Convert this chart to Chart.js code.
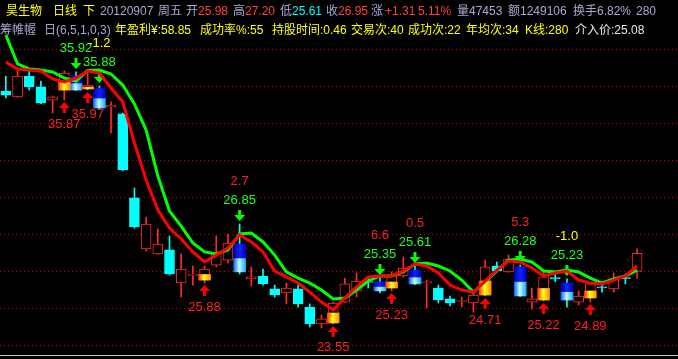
<!DOCTYPE html>
<html>
<head>
<meta charset="utf-8">
<script src="https://cdn.jsdelivr.net/npm/chart.js@4.4.0/dist/chart.umd.min.js"></script>
<style>
  html, body { margin: 0; padding: 0; background: #000; }
  #wrap { width: 678px; height: 359px; position: relative; background: #000; }
</style>
</head>
<body>
<div id="wrap"><canvas id="kChart"></canvas></div>
<script>
// trading days shown (last one is 20120907)
const dates = [
  '20120625','20120626','20120627','20120628','20120629',
  '20120702','20120703','20120704','20120705','20120706',
  '20120709','20120710','20120711','20120712','20120713',
  '20120716','20120717','20120718','20120719','20120720',
  '20120723','20120724','20120725','20120726','20120727',
  '20120730','20120731','20120801','20120802','20120803',
  '20120806','20120807','20120808','20120809','20120810',
  '20120813','20120814','20120815','20120816','20120817',
  '20120820','20120821','20120822','20120823','20120824',
  '20120827','20120828','20120829','20120830','20120831',
  '20120903','20120904','20120905','20120906','20120907'
];

const openP = [35.73,35.41,36.54,35.95,35.24,35.78,36.54,35.84,35.89,34.86,
  34.49,29.95,27.19,26.92,27.14,25.35,25.76,25.51,26.32,26.59,
  27.46,25.57,25.73,25.03,24.81,25.03,24.05,23.14,23.19,24.32,
  24.92,25.41,25.41,25.08,25.73,26.05,25.35,25.08,24.49,24.35,
  24.27,24.70,26.27,25.95,26.22,24.32,24.43,25.62,25.35,24.32,
  24.54,25.14,25.03,25.62,25.98];
const closeP = [35.51,36.54,35.95,35.08,35.41,36.70,35.78,36.05,34.81,34.97,
  31.46,28.38,28.54,27.46,25.84,26.11,25.78,26.11,26.97,27.51,
  25.95,25.68,25.30,24.70,25.08,24.22,23.14,23.41,24.27,25.30,
  25.46,25.38,24.92,25.73,26.16,25.30,25.41,24.43,24.27,24.38,
  24.70,26.22,26.00,26.65,24.65,24.49,25.68,25.59,24.43,24.65,
  25.30,25.08,25.57,25.59,26.95];
const highP = [36.54,36.97,36.86,36.27,35.46,36.81,36.76,36.81,36.00,35.14,
  34.54,30.49,28.92,28.27,27.89,26.92,26.27,26.27,27.89,28.00,
  28.54,26.22,26.11,25.24,25.35,25.24,24.22,23.62,24.32,25.62,
  25.89,25.68,25.62,25.95,26.76,26.27,25.51,25.24,24.65,24.59,
  24.86,26.59,26.49,26.86,26.32,25.08,26.05,25.89,25.57,24.92,
  25.32,25.35,25.89,25.84,27.20];
const lowP = [35.35,35.38,35.78,35.05,34.54,35.24,35.76,35.78,34.79,33.46,
  31.41,28.32,27.08,26.90,25.78,24.59,25.24,25.35,26.22,26.43,
  25.84,25.19,25.24,24.59,24.22,24.05,22.97,22.92,23.14,24.30,
  24.59,25.08,24.81,24.92,25.68,25.28,24.00,24.27,24.11,24.05,
  23.78,24.65,25.95,25.93,24.62,23.95,24.38,25.41,24.05,24.16,
  24.32,24.86,24.86,25.30,25.61];

// the two moving-average style lines
const maFast = [37.30,36.92,36.86,36.81,36.38,36.22,36.43,36.81,36.70,35.89,
  35.14,32.92,30.92,29.30,28.32,27.73,27.03,26.49,26.86,27.24,
  27.95,27.57,27.03,26.00,25.68,25.35,24.86,24.32,23.89,24.54,
  25.14,25.68,25.73,25.73,26.00,26.38,26.27,25.89,25.24,24.97,
  24.86,25.46,26.05,26.54,26.49,26.16,25.73,25.89,26.00,25.51,
  25.35,25.30,25.51,25.73,26.27];
const maSlow = [38.76,37.19,36.92,36.86,36.76,36.43,36.27,36.84,36.86,36.65,
  36.05,35.03,33.62,31.14,29.24,28.43,27.51,27.03,26.92,27.14,
  28.00,28.05,27.57,26.86,25.95,25.62,25.35,24.97,24.49,24.54,
  24.97,25.46,25.73,25.73,25.95,26.38,26.43,26.27,26.00,25.51,
  24.86,25.41,26.00,26.59,26.65,26.49,26.00,25.95,26.05,25.95,
  25.62,25.35,25.57,25.73,26.05];

// buy / sell signals
const buyIdx = [5, 7, 17, 28, 33, 41, 46, 50];
const buyText = ['35.87','35.97','25.88','23.55','25.23','24.71','25.22','24.89'];
const sellIdx = [6, 8, 20, 32, 35, 44, 48];
const sellText = ['35.92','35.88','26.85','25.35','25.61','26.28','25.23'];
const profitText = [null,'-1.2','2.7','6.6','0.5','5.3','-1.0'];

// price levels of the dotted guide lines
const gridTicks = [22, 24, 26, 28, 30, 32, 34, 36, 38];

const xLabels = dates.concat(['', ' ', '  ']); // empty slots on the right

const RED = '#ff2a2a', CYAN = '#00ffff';
const FONT = '13px "Liberation Sans", "Noto Sans CJK SC", sans-serif';
const HFONT = '12px "Liberation Sans", "Noto Sans CJK SC", sans-serif';
const yMin = 21.459, yMax = 40.649;

const isSell = i => sellIdx.includes(i);
const isBuy = i => buyIdx.includes(i);
const isUp = i => closeP[i] >= openP[i];

const wickData = dates.map((d, i) => [lowP[i], highP[i]]);
const bodyData = dates.map((d, i) => isSell(i) ? null : [Math.min(openP[i], closeP[i]), Math.max(openP[i], closeP[i])]);
const sellTop = dates.map((d, i) => isSell(i) ? [(openP[i] + closeP[i]) / 2, openP[i]] : null);
const sellBottom = dates.map((d, i) => isSell(i) ? [closeP[i], (openP[i] + closeP[i]) / 2] : null);
const buyBox = dates.map((d, i) => isBuy(i) ? [openP[i], (openP[i] + closeP[i]) / 2] : null);

function hGrad(c, w, stops) {
  const chart = c.chart;
  const fallback = stops[1][1];
  if (c.type !== 'data' || !chart.scales || !chart.scales.x) return fallback;
  const x = chart.scales.x.getPixelForValue(c.dataIndex);
  if (!isFinite(x)) return fallback;
  const g = chart.ctx.createLinearGradient(x - w / 2, 0, x + w / 2, 0);
  stops.forEach(s => g.addColorStop(s[0], s[1]));
  return g;
}

function drawArrow(ctx, x, tip, dir, color) {
  // dir 1: points up, -1: points down
  ctx.fillStyle = color;
  ctx.beginPath();
  ctx.moveTo(x, tip);
  ctx.lineTo(x - 5.5, tip + dir * 6);
  ctx.lineTo(x + 5.5, tip + dir * 6);
  ctx.closePath();
  ctx.fill();
  ctx.fillRect(x - 1.5, dir > 0 ? tip + 6 : tip - 11, 3, 5);
}

const SLOW_DS = 5;

const signalPlugin = {
  id: 'signals',
  beforeDatasetsDraw(chart) {
    const ctx = chart.ctx, y = chart.scales.y, a = chart.chartArea;
    ctx.save();
    ctx.strokeStyle = '#c80000';
    ctx.lineWidth = 1;
    ctx.setLineDash([1, 3]);
    gridTicks.forEach(v => {
      const py = Math.round(y.getPixelForValue(v)) + 0.5;
      ctx.beginPath();
      ctx.moveTo(a.left, py);
      ctx.lineTo(a.right, py);
      ctx.stroke();
    });
    ctx.restore();
  },
  beforeDatasetDraw(chart, args) {
    if (args.index !== SLOW_DS) return;
    const ctx = chart.ctx, x = chart.scales.x, y = chart.scales.y;
    ctx.save();
    buyIdx.forEach(i => drawArrow(ctx, x.getPixelForValue(i), y.getPixelForValue(lowP[i]) + 2, 1, '#ff0000'));
    sellIdx.forEach(i => drawArrow(ctx, x.getPixelForValue(i), y.getPixelForValue(highP[i]) - 3, -1, '#00ff00'));
    ctx.restore();
  },
  afterDatasetsDraw(chart) {
    const ctx = chart.ctx, x = chart.scales.x, y = chart.scales.y;
    ctx.save();
    ctx.font = FONT;
    ctx.textAlign = 'center';
    ctx.textBaseline = 'middle';
    buyIdx.forEach((i, k) => {
      ctx.fillStyle = '#ff2020';
      ctx.fillText(buyText[k], x.getPixelForValue(i), y.getPixelForValue(lowP[i]) + 24);
    });
    sellIdx.forEach((i, k) => {
      const ly = y.getPixelForValue(highP[i]) - 24;
      const px = x.getPixelForValue(i);
      ctx.fillStyle = '#20ff20';
      ctx.fillText(sellText[k], px, ly);
      if (profitText[k]) {
        ctx.fillStyle = profitText[k].startsWith('-') ? '#ffff00' : '#ff2020';
        ctx.fillText(profitText[k], px, ly - 18.5);
      }
    });
    ctx.restore();
  }
};

const GRAY = '#a8a8d0', YEL = '#ffff00', NUMRED = '#ff4040', WHITE = '#e8e8e8';
// [text, x, colour]
const topRow = [
  ['昊生物', 6, YEL], ['日线', 53, YEL], ['下', 83, YEL],
  ['20120907', 100, GRAY], ['周五', 158, GRAY],
  ['开', 186, GRAY], ['25.98', 198, NUMRED],
  ['高', 233, GRAY], ['27.20', 245, NUMRED],
  ['低', 280, GRAY], ['25.61', 292, CYAN],
  ['收', 326, GRAY], ['26.95', 338, NUMRED],
  ['涨', 371, GRAY], ['+1.31', 385, NUMRED], ['5.11%', 418, NUMRED],
  ['量47453', 457, GRAY], ['额1249106', 508, GRAY], ['换手6.82%', 573, GRAY], ['280', 636, GRAY]
];
const secondRow = [
  ['筹帷幄', 0, GRAY], ['日(6,5,1,0,3)', 44, GRAY],
  ['年盈利¥:58.85', 115, YEL], ['成功率%:55', 200, YEL], ['持股时间:0.46', 272, YEL],
  ['交易次:40', 351, YEL], ['成功次:22', 408, YEL], ['年均次:34', 466, YEL],
  ['K线:280', 525, YEL], ['介入价:25.08', 575, WHITE]
];

function drawRow(ctx, y, segs) {
  segs.forEach(([t, x, c]) => {
    ctx.fillStyle = c;
    ctx.fillText(t, x, y);
  });
}

const framePlugin = {
  id: 'frame',
  afterDraw(chart) {
    const ctx = chart.ctx;
    ctx.save();
    const b = Math.round(chart.chartArea.bottom) + 0.5;
    ctx.strokeStyle = '#c8c8c8';
    ctx.lineWidth = 1;
    ctx.beginPath();
    ctx.moveTo(0, b);
    ctx.lineTo(chart.width, b);
    ctx.stroke();
    ctx.font = HFONT;
    ctx.textAlign = 'left';
    ctx.textBaseline = 'middle';
    drawRow(ctx, 12, topRow);
    drawRow(ctx, 31, secondRow);
    ctx.restore();
  }
};

new Chart(document.getElementById('kChart'), {
  type: 'bar',
  data: {
    labels: xLabels,
    datasets: [
      {
        label: 'wick',
        data: wickData,
        grouped: false,
        barThickness: 1,
        backgroundColor: dates.map((d, i) => (isUp(i) && !isSell(i)) ? RED : CYAN),
        order: 7
      },
      {
        label: 'body',
        data: bodyData,
        grouped: false,
        barThickness: 10,
        minBarLength: 1,
        borderWidth: 1,
        borderSkipped: false,
        backgroundColor: dates.map((d, i) => isUp(i) ? '#000000' : CYAN),
        borderColor: dates.map((d, i) => isUp(i) ? RED : CYAN),
        order: 6
      },
      {
        label: 'sellTop',
        data: sellTop,
        grouped: false,
        barThickness: 12,
        borderSkipped: false,
        backgroundColor: c => hGrad(c, 12, [[0, '#0000a8'], [0.5, '#0a22ff'], [1, '#0000c0']]),
        order: 5
      },
      {
        label: 'sellBottom',
        data: sellBottom,
        grouped: false,
        barThickness: 12,
        borderSkipped: false,
        backgroundColor: c => hGrad(c, 12, [[0, '#1060ff'], [0.45, '#c0ffff'], [1, '#20a8ff']]),
        order: 5
      },
      {
        label: 'buyBox',
        data: buyBox,
        grouped: false,
        barThickness: 12,
        borderSkipped: false,
        backgroundColor: c => hGrad(c, 12, [[0, '#ff3000'], [0.45, '#ffff20'], [1, '#ff9000']]),
        order: 4
      },
      {
        type: 'line',
        label: 'slow',
        data: maSlow,
        borderColor: '#00ff00',
        borderWidth: 3,
        pointRadius: 0,
        tension: 0,
        order: 1
      },
      {
        type: 'line',
        label: 'fast',
        data: maFast,
        borderColor: '#ff0000',
        borderWidth: 3,
        pointRadius: 0,
        tension: 0,
        order: 0
      }
    ]
  },
  options: {
    responsive: true,
    maintainAspectRatio: false,
    animation: false,
    events: [],
    layout: { padding: { left: 0, right: 0, top: 0, bottom: 4 } },
    plugins: { legend: { display: false }, tooltip: { enabled: false } },
    scales: {
      x: { display: false, offset: true },
      y: {
        min: yMin,
        max: yMax,
        ticks: { display: false },
        grid: { display: false, drawTicks: false },
        border: { display: false }
      }
    }
  },
  plugins: [signalPlugin, framePlugin]
});
</script>
</body>
</html>
